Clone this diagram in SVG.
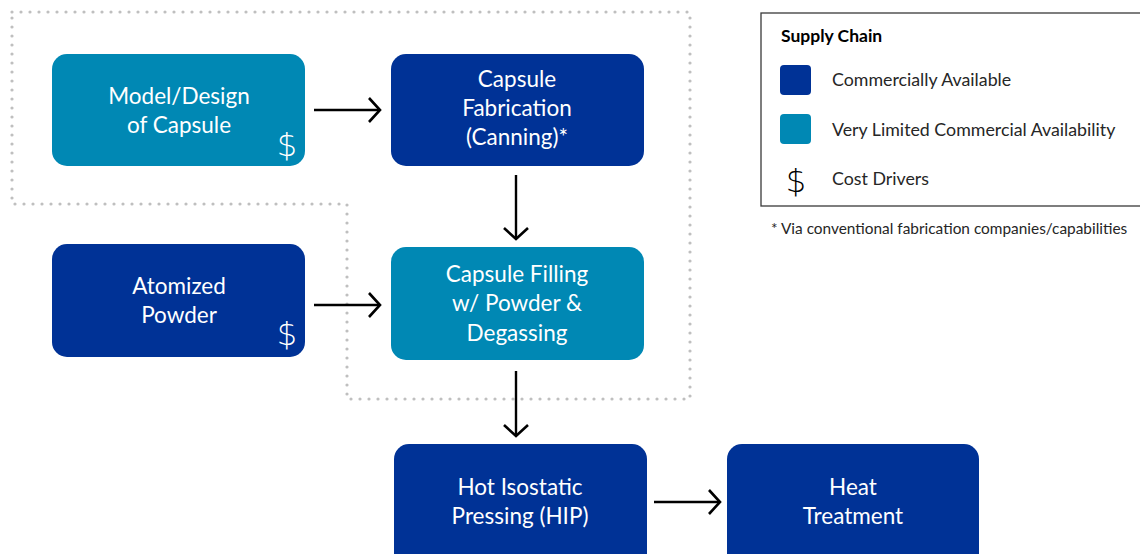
<svg xmlns="http://www.w3.org/2000/svg" width="1140" height="554" viewBox="0 0 1140 554">
<defs>
<marker id="ah" viewBox="0 0 14 28" refX="12.5" refY="14" markerWidth="14" markerHeight="28" markerUnits="userSpaceOnUse" orient="auto">
<path d="M1.5,2 L12.5,14 L1.5,26" fill="none" stroke="#000" stroke-width="2.6"/>
</marker>
</defs>
<style>
.dark{fill:#003296}
.teal{fill:#0088b4}
.nt{font-family:Lato,"Open Sans",sans-serif;font-size:22.5px;fill:#fff;text-anchor:middle}
.dol{font-family:"DejaVu Sans",sans-serif;font-weight:200;font-size:32px;fill:#fff;text-anchor:middle}
.lg{font-family:Lato,"Open Sans",sans-serif;font-size:17.8px;fill:#262626}
.conn{stroke:#000;stroke-width:2.4;fill:none;marker-end:url(#ah)}
</style>
<rect width="1140" height="554" fill="#fff"/>
<path d="M12,12 H690 V399 H347 V204 H12 Z" fill="none" stroke="#bfbfbf" stroke-width="3.2" stroke-linecap="round" stroke-dasharray="0 9"/>
<g id="model">
<rect class="teal" x="52" y="54" width="253" height="112" rx="15"/>
<text class="nt" x="179" y="104">Model/Design</text>
<text class="nt" x="179" y="133">of Capsule</text>
<text class="dol" x="287" y="156">$</text>
</g>
<g id="fabrication">
<rect class="dark" x="391" y="54" width="253" height="112" rx="15"/>
<text class="nt" x="517" y="87">Capsule</text>
<text class="nt" x="517" y="116">Fabrication</text>
<text class="nt" x="517" y="145">(Canning)*</text>
</g>
<g id="powder">
<rect class="dark" x="52" y="244" width="253" height="113" rx="15"/>
<text class="nt" x="179" y="294">Atomized</text>
<text class="nt" x="179" y="323">Powder</text>
<text class="dol" x="287" y="345">$</text>
</g>
<g id="filling">
<rect class="teal" x="391" y="247" width="253" height="113" rx="15"/>
<text class="nt" x="517" y="282">Capsule Filling</text>
<text class="nt" x="517" y="311">w/ Powder &amp;</text>
<text class="nt" x="517" y="341">Degassing</text>
</g>
<g id="hip">
<rect class="dark" x="394" y="444" width="253" height="124" rx="15"/>
<text class="nt" x="520" y="495">Hot Isostatic</text>
<text class="nt" x="520" y="524">Pressing (HIP)</text>
</g>
<g id="heat">
<rect class="dark" x="727" y="444" width="252" height="124" rx="15"/>
<text class="nt" x="853" y="495">Heat</text>
<text class="nt" x="853" y="524">Treatment</text>
</g>
<g id="connectors">
<line class="conn" x1="314" y1="110" x2="380" y2="110"/>
<line class="conn" x1="516" y1="175" x2="516" y2="239"/>
<line class="conn" x1="314" y1="305" x2="380" y2="305"/>
<line class="conn" x1="516" y1="371" x2="516" y2="436"/>
<line class="conn" x1="654" y1="502" x2="720" y2="502"/>
</g>
<g id="legend">
<rect x="761" y="13" width="390" height="193" fill="#fff" stroke="#3a3a3a" stroke-width="1.3"/>
<text class="lg" x="781" y="42" font-weight="bold" style="fill:#000;font-size:17.5px">Supply Chain</text>
<rect class="dark" x="780" y="65" width="31" height="30" rx="4"/>
<text class="lg" x="832" y="86">Commercially Available</text>
<rect class="teal" x="780" y="114" width="31" height="30" rx="4"/>
<text class="lg" x="832" y="136">Very Limited Commercial Availability</text>
<text class="dol" x="796" y="192" style="fill:#000">$</text>
<text class="lg" x="832" y="185">Cost Drivers</text>
</g>
<text class="lg" x="771" y="234" style="font-size:15.4px">* Via conventional fabrication companies/capabilities</text>
</svg>
